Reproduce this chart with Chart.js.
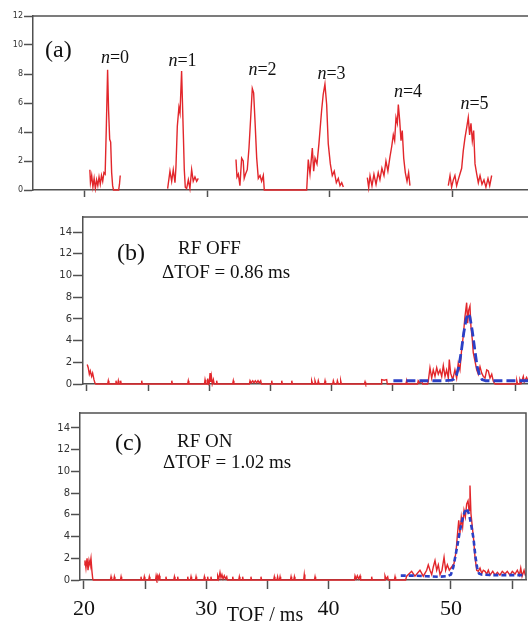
<!DOCTYPE html>
<html>
<head>
<meta charset="utf-8">
<script src="https://cdn.jsdelivr.net/npm/chart.js@4.4.1/dist/chart.umd.min.js"></script>
<style>
  html, body { margin: 0; padding: 0; background: #fff; }
  body { width: 528px; height: 623px; overflow: hidden; position: relative; }
  canvas { position: absolute; left: 0; }
</style>
</head>
<body>
<canvas id="chartA" style="top:0" width="540" height="200"></canvas>
<canvas id="chartB" style="top:200px" width="540" height="200"></canvas>
<canvas id="chartC" style="top:400px" width="540" height="223"></canvas>
<script>
// ── Data (TOF in ms, counts) ────────────────────────────────────────────────

// (a) peaks n = 0..5
const peakN0 = [[20.4,1.4],[20.45,0.5],[20.55,1.0],[20.65,0.2],[20.75,0.8],[20.85,0.1],[20.95,0.7],[21.05,0.3],[21.15,0.9],[21.25,0.4],[21.35,1.0],[21.45,0.6],[21.55,1.2],[21.65,1.1],[21.75,4.5],[21.85,8.3],[21.93,5.5],[22.02,3.5],[22.1,3.3],[22.18,1.2],[22.26,0.3],[22.33,0],[22.75,0],[22.82,0.4],[22.88,1.0]];
const peakN1 = [[26.75,0.1],[26.94,1.3],[27.08,0.6],[27.21,1.4],[27.35,0.5],[27.43,1.6],[27.54,4.4],[27.67,5.7],[27.76,5.3],[27.89,8.2],[28.03,3.9],[28.11,1.4],[28.19,0.2],[28.3,0.1],[28.44,0.7],[28.57,0.1],[28.71,1.4],[28.84,0.6],[28.98,0.9],[29.12,0.6],[29.25,0.8]];
const peakN2 = [[32.33,2.1],[32.41,0.9],[32.52,1.1],[32.65,0.3],[32.79,2.2],[32.92,2.0],[33.0,0.8],[33.11,1.1],[33.25,1.4],[33.39,2.9],[33.53,5.0],[33.66,7.0],[33.77,6.7],[33.88,4.8],[34.02,2.2],[34.15,0.8],[34.29,1.0],[34.42,0.6],[34.56,1.0],[34.64,0]];
const peakN3 = [[38.1,0],[38.23,2.1],[38.37,1.1],[38.56,2.9],[38.67,1.3],[38.78,2.2],[38.94,1.8],[39.1,3.2],[39.32,5.5],[39.45,6.6],[39.59,7.3],[39.73,5.9],[39.86,3.2],[40.03,1.8],[40.19,1.0],[40.35,1.3],[40.52,0.5],[40.68,0.8],[40.82,0.3],[40.96,0.5],[41.09,0.2]];
const peakN4 = [[43.05,0.85],[43.16,0.16],[43.27,0.97],[43.43,0.28],[43.59,1.08],[43.76,0.39],[43.94,1.2],[44.08,0.7],[44.24,1.5],[44.41,1.0],[44.57,2.0],[44.73,1.3],[44.9,2.3],[45.04,3.0],[45.17,3.8],[45.28,3.4],[45.39,5.0],[45.5,4.6],[45.58,5.9],[45.69,4.8],[45.8,3.4],[45.9,4.1],[46.02,2.2],[46.15,1.2],[46.29,0.6],[46.42,1.2],[46.53,0.3]];
const peakN5 = [[49.66,0.3],[49.8,1.0],[49.93,0.2],[50.07,0.7],[50.2,1.0],[50.34,0.3],[50.47,0.7],[50.61,1.1],[50.75,1.5],[50.88,2.7],[51.02,3.6],[51.16,4.3],[51.29,5.0],[51.4,3.8],[51.51,4.6],[51.62,3.4],[51.73,4.1],[51.84,1.8],[51.98,1.1],[52.11,0.5],[52.25,1.0],[52.41,0.4],[52.57,0.7],[52.73,0.2],[52.9,0.8],[53.04,0.3],[53.2,1.0]];
const peakNames = ['0', '1', '2', '3', '4', '5'];

// (b) RF OFF: measured + fit
const scanB = [
  [20.02,1.8],[20.1,1.5],[20.19,0.9],[20.27,1.2],[20.38,0.7],[20.46,1.0],[20.57,0.4],[20.65,0.1],[20.72,0],
  [21.69,0],[21.74,0.3],[21.79,0],[22.32,0],[22.37,0.3],[22.42,0],[22.51,0],[22.56,0.3],[22.61,0],[22.7,0],[22.75,0.3],[22.8,0],
  [24.42,0],[24.47,0.3],[24.52,0],[26.88,0],[26.93,0.3],[26.98,0],[28.23,0],[28.28,0.3],[28.33,0],
  [29.6,0],[29.65,0.4],[29.72,0],[29.82,0],[29.87,0.5],[29.95,0],[30.0,0.1],[30.06,1.0],[30.12,0.2],[30.17,0.7],[30.24,0],[30.33,0.4],[30.4,0],[30.55,0],[30.6,0.3],[30.65,0],
  [31.91,0],[31.96,0.3],[32.01,0],
  [33.28,0],[33.33,0.3],[33.42,0.1],[33.55,0.3],[33.65,0.1],[33.76,0.3],[33.87,0.1],[33.98,0.3],[34.08,0.1],[34.2,0.3],[34.26,0],
  [35.05,0],[35.1,0.3],[35.15,0],[35.87,0],[35.92,0.3],[35.97,0],[36.69,0],[36.74,0.3],[36.79,0],
  [38.32,0],[38.37,0.3],[38.45,0],[38.59,0],[38.64,0.3],[38.72,0],[38.86,0],[38.91,0.3],[38.98,0],
  [39.41,0],[39.46,0.3],[39.51,0],[40.09,0],[40.14,0.3],[40.22,0],[40.42,0],[40.47,0.3],[40.55,0],[40.69,0],[40.74,0.3],[40.8,0],
  [42.68,0],[42.73,0.2],[42.78,0],[44.05,0],[44.09,0.4],[44.3,0.35],[44.5,0.4],[44.55,0],
  [46.08,0],[46.13,0.3],[46.18,0],[47.03,0],[47.08,0.3],[47.2,0.1],[47.35,0.3],[47.45,0],
  [47.85,0],[47.9,0.25],[48.04,1.5],[48.18,0.55],[48.31,1.3],[48.45,0.7],[48.59,1.5],[48.72,0.9],[48.86,1.3],[49.0,0.7],[49.13,1.7],[49.27,0.7],[49.4,1.3],[49.54,0.55],[49.62,2.25],[49.73,1.0],[49.9,0.4],[50.08,1.3],[50.22,0.55],[50.35,1.9],[50.49,1.3],[50.63,3.2],[50.76,4.4],[50.9,6.2],[51.04,7.5],[51.12,5.6],[51.2,6.8],[51.31,7.2],[51.39,5.3],[51.5,4.1],[51.58,2.9],[51.72,2.1],[51.86,1.3],[51.99,0.9],[52.13,1.6],[52.27,1.0],[52.4,0.7],[52.54,0.55],[52.68,1.3],[52.81,1.2],[52.95,0.55],[53.09,0.9],[53.22,0.25],[53.36,0],
  [55.09,0],[55.14,0.3],[55.2,0],[55.35,0],[55.4,0.4],[55.5,0.1],[55.67,0.7],[55.75,0.2],[55.94,0.6],[56.05,0.3]
];
const fitB = [[45.05,0.3],[46,0.3],[47,0.3],[48,0.3],[49,0.3],[49.8,0.35],[50.0,0.45],[50.2,0.8],[50.4,1.6],[50.6,3.0],[50.8,4.7],[51.0,6.0],[51.15,6.5],[51.3,6.2],[51.5,4.9],[51.7,3.2],[51.9,1.6],[52.1,0.8],[52.3,0.4],[52.6,0.3],[53.5,0.3],[54.5,0.3],[55.5,0.3],[56.3,0.3]];

// (c) RF ON: measured + fit
const scanC = [
  [20.02,1.4],[20.08,1.8],[20.16,1.1],[20.25,2.0],[20.33,0.9],[20.41,1.8],[20.49,1.4],[20.57,2.0],[20.65,0.8],[20.71,0.15],[20.76,0],
  [22.16,0],[22.21,0.3],[22.26,0],[22.43,0],[22.48,0.3],[22.53,0],[22.98,0],[23.03,0.3],[23.08,0],
  [24.61,0],[24.66,0.3],[24.71,0],[24.88,0],[24.93,0.3],[24.98,0],[25.29,0],[25.34,0.3],[25.39,0],
  [25.85,0],[25.9,0.4],[25.96,0.1],[26.03,0.4],[26.09,0.1],[26.16,0.4],[26.21,0],
  [26.65,0],[26.7,0.3],[26.75,0],[27.34,0],[27.39,0.3],[27.44,0],[27.61,0],[27.66,0.3],[27.71,0],
  [28.43,0],[28.48,0.3],[28.53,0],[28.7,0],[28.75,0.3],[28.8,0],[29.11,0],[29.16,0.3],[29.21,0],
  [29.79,0],[29.84,0.3],[29.89,0],[30.06,0],[30.11,0.3],[30.16,0],[30.33,0],[30.38,0.3],[30.43,0],
  [30.88,0],[30.93,0.4],[31.02,0.1],[31.12,0.7],[31.2,0.2],[31.28,0.5],[31.37,0.1],[31.47,0.4],[31.57,0.1],[31.67,0.3],[31.72,0],
  [32.11,0],[32.16,0.3],[32.21,0],[32.65,0],[32.7,0.3],[32.75,0],[32.92,0],[32.97,0.3],[33.02,0],
  [33.6,0],[33.65,0.3],[33.7,0],[34.42,0],[34.47,0.3],[34.52,0],
  [35.51,0],[35.56,0.3],[35.61,0],[35.78,0],[35.83,0.3],[35.88,0],[35.98,0],[36.03,0.3],[36.08,0],
  [36.88,0],[36.93,0.3],[36.98,0],[37.15,0],[37.2,0.3],[37.25,0],[37.96,0],[38.01,0.5],[38.06,0],
  [38.84,0],[38.89,0.3],[38.94,0],
  [42.11,0],[42.16,0.4],[42.25,0.1],[42.35,0.4],[42.45,0.1],[42.57,0.4],[42.62,0],
  [43.47,0],[43.52,0.3],[43.57,0],[44.56,0],[44.61,0.4],[44.7,0.1],[44.83,0.3],[44.88,0],[45.38,0],[45.43,0.3],[45.48,0],
  [46.3,0],[46.38,0.35],[46.79,0.8],[47.06,0.35],[47.47,0.9],[47.74,0.35],[48.02,0.9],[48.15,1.4],[48.29,0.9],[48.43,0.5],[48.56,1.2],[48.7,1.8],[48.84,0.9],[48.97,1.4],[49.11,0.5],[49.27,0.9],[49.44,2.1],[49.57,0.9],[49.71,1.4],[49.87,0.9],[50.06,1.2],[50.25,1.5],[50.42,2.6],[50.52,4.0],[50.64,5.5],[50.74,4.3],[50.85,5.8],[50.96,4.9],[51.07,6.4],[51.18,5.8],[51.29,7.0],[51.4,7.3],[51.48,6.4],[51.56,8.7],[51.64,6.1],[51.75,4.9],[51.86,3.7],[51.97,2.1],[52.11,0.9],[52.24,0.8],[52.38,1.1],[52.52,0.6],[52.65,0.9],[52.79,0.8],[52.93,0.55],[53.06,0.9],[53.2,0.45],[53.42,0.8],[53.61,0.45],[53.8,0.7],[54.01,0.45],[54.2,0.8],[54.42,0.55],[54.61,0.8],[54.83,0.45],[55.02,0.8],[55.24,0.55],[55.43,0.9],[55.6,0.45],[55.71,1.1],[55.82,0.35],[55.98,0.9],[56.09,0.4]
];
const fitC = [[45.9,0.4],[47,0.4],[48,0.35],[49,0.3],[49.7,0.35],[50.0,0.5],[50.2,1.2],[50.4,2.4],[50.55,3.3],[50.7,4.3],[50.9,5.4],[51.1,6.2],[51.3,6.6],[51.5,6.0],[51.7,4.8],[51.85,3.8],[52.0,2.2],[52.15,1.1],[52.3,0.6],[52.5,0.5],[53.5,0.45],[54.5,0.45],[55.5,0.45],[56.14,0.45]];

const xTickLabels = [20, 30, 40, 50];
const widthB = '0.86';
const widthC = '1.02';

// ── Styling ─────────────────────────────────────────────────────────────────
const RED = '#e2262b';
const BLUE = '#2b40c6';
const FRAME = '#505050';
const SERIF = '"Liberation Serif", "Times New Roman", serif';
const SANS = '"DejaVu Sans", sans-serif';

// (a) trace: the segments with gaps between them, n=2 runs flat into n=3
const scanA = [peakN0, peakN1, peakN2.concat(peakN3), peakN4, peakN5]
  .flatMap((seg, i) => i ? [[seg[0][0] - 0.01, null], ...seg] : seg);

function yAxis(max, width, tickLen, size) {
  return {
    min: 0, max,
    border: { color: FRAME, width: 1.5 },
    grid: { drawOnChartArea: false, tickLength: tickLen, tickColor: FRAME, tickWidth: 1.5 },
    ticks: { stepSize: 2, includeBounds: false, padding: 1, color: '#333', font: { family: SANS, size } },
    afterFit: s => { s.width = width; },
  };
}

function xAxis(min, max, step, height, tickLen, labels) {
  return {
    type: 'linear', min, max,
    border: { color: FRAME, width: 1.5 },
    grid: { drawOnChartArea: false, tickLength: tickLen, tickColor: FRAME, tickWidth: 1.5 },
    ticks: {
      stepSize: step, includeBounds: false, autoSkip: false, maxRotation: 0,
      display: !!labels, padding: 7, color: '#111', font: { family: SERIF, size: 22 },
      callback: v => (labels && labels.includes(v) ? String(v) : ''),
    },
    afterFit: s => { s.height = height; },
  };
}

const redLine = data => ({ data, borderColor: RED, borderWidth: 1.4, pointRadius: 0, tension: 0, spanGaps: false, clip: 3, order: 1 });
const blueFit = (data, dash, w) => ({ data, borderColor: BLUE, borderWidth: w, borderDash: dash, pointRadius: 0, tension: 0, clip: 3, order: 0 });

// frame top / right edge + text labels
function decor(labels, rightEdge) {
  return {
    id: 'decor',
    afterDraw(chart) {
      const { ctx, chartArea: a } = chart;
      ctx.save();
      ctx.strokeStyle = FRAME;
      ctx.lineWidth = 1.5;
      ctx.beginPath();
      ctx.moveTo(a.left, a.top);
      ctx.lineTo(a.right, a.top);
      if (rightEdge) ctx.lineTo(a.right, a.bottom);
      ctx.stroke();

      ctx.fillStyle = '#111';
      ctx.textBaseline = 'alphabetic';
      ctx.textAlign = 'left';
      for (const lb of labels) {
        const fonts = lb.runs.map(r => `${r[1] ? 'italic ' : ''}${lb.size}px ${SERIF}`);
        const widths = lb.runs.map((r, i) => { ctx.font = fonts[i]; return ctx.measureText(r[0]).width; });
        let x = lb.center ? lb.x - widths.reduce((p, q) => p + q, 0) / 2 : lb.x;
        lb.runs.forEach((r, i) => {
          ctx.font = fonts[i];
          ctx.fillText(r[0], x, lb.y);
          x += widths[i];
        });
      }
      ctx.restore();
    },
  };
}

function makeChart(id, datasets, scales, padding, labels, rightEdge) {
  return new Chart(document.getElementById(id), {
    type: 'line',
    data: { datasets },
    options: {
      responsive: false,
      animation: false,
      events: [],
      layout: { padding },
      plugins: { legend: { display: false }, tooltip: { enabled: false } },
      scales,
    },
    plugins: [decor(labels, rightEdge)],
  });
}

// ── (a) ─────────────────────────────────────────────────────────────────────
const peakLabelPos = [[115, 63], [182.5, 66], [262.5, 75], [331.5, 79], [408, 97], [474.5, 109]];
makeChart('chartA',
  [redLine(scanA)],
  { x: xAxis(15.76, 56.41, 10, 10, 7, null), y: yAxis(12, 33, 9, 8) },
  { top: 16, left: 0, right: 9, bottom: 0 },
  [{ runs: [['(a)']], x: 45, y: 57, size: 24 }].concat(
    peakNames.map((n, i) => ({ runs: [['n', true], ['=' + n]], x: peakLabelPos[i][0], y: peakLabelPos[i][1], size: 18, center: true }))
  ),
  false);

// ── (b) ─────────────────────────────────────────────────────────────────────
makeChart('chartB',
  [blueFit(fitB, [9, 4], 2.8), redLine(scanB)],
  { x: xAxis(19.673, 56.3, 5, 16, 7, null), y: yAxis(15.4, 83, 10, 10) },
  { top: 17, left: 0, right: 9, bottom: 0 },
  [
    { runs: [['(b)']], x: 117, y: 60, size: 24 },
    { runs: [['RF OFF']], x: 178, y: 54, size: 19 },
    { runs: [['\u0394TOF = ' + widthB + ' ms']], x: 162, y: 78, size: 19 },
  ],
  false);

// ── (c) ─────────────────────────────────────────────────────────────────────
makeChart('chartC',
  [blueFit(fitC, [5, 3], 2.6), redLine(scanC)],
  { x: xAxis(19.673, 56.14, 5, 43, 9, xTickLabels), y: yAxis(15.38, 80, 9, 10) },
  { top: 13, left: 0, right: 14, bottom: 0 },
  [
    { runs: [['(c)']], x: 115, y: 50, size: 24 },
    { runs: [['RF ON']], x: 177, y: 47, size: 19 },
    { runs: [['\u0394TOF = ' + widthC + ' ms']], x: 163, y: 68, size: 19 },
    { runs: [['TOF / ms']], x: 265, y: 221, size: 20, center: true },
  ],
  true);
</script>
</body>
</html>
